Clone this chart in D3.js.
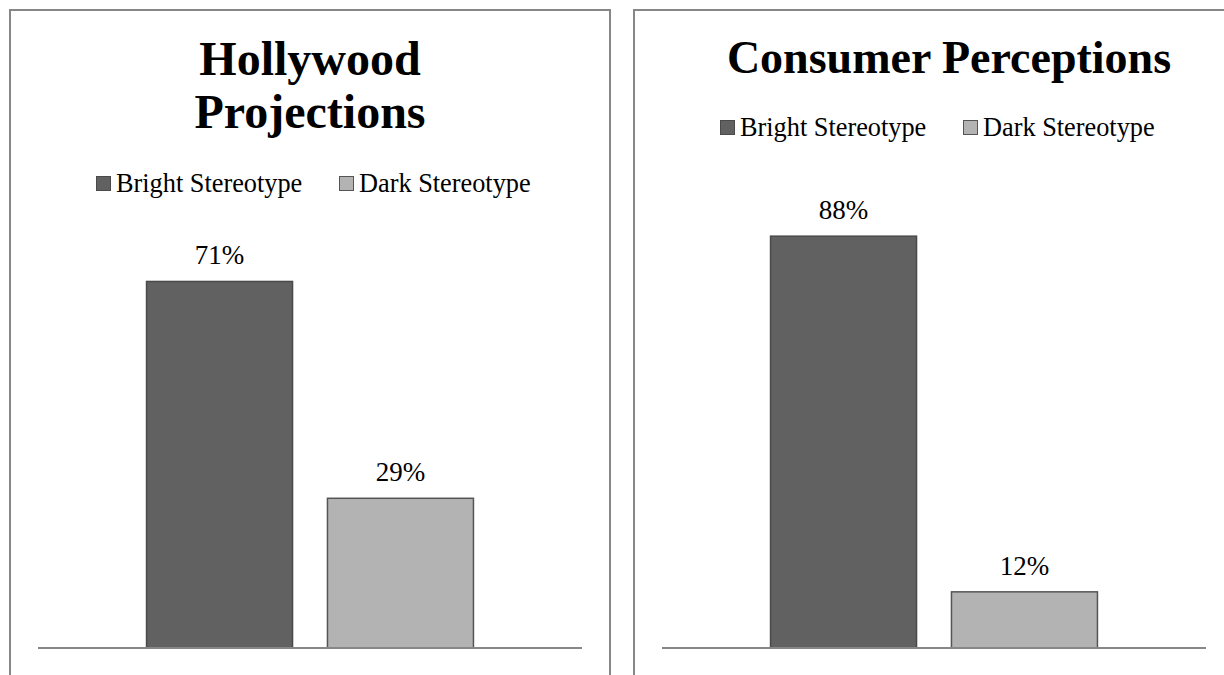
<!DOCTYPE html>
<html>
<head>
<meta charset="utf-8">
<script src="https://cdn.jsdelivr.net/npm/d3@7"></script>
<style>
  body { margin: 0; background: #fff; }
  svg { display: block; font-family: "Liberation Serif", "Times New Roman", serif; }
</style>
</head>
<body>
<script>
const width = 1224;
const height = 675;

// Data
const series = ["Bright Stereotype", "Dark Stereotype"];
const chartTitles = [["Hollywood", "Projections"], ["Consumer Perceptions"]];
const hollywoodValues = [0.71, 0.29];
const consumerValues = [0.88, 0.12];

const fills = ["#616161", "#b3b3b3"];
const strokes = ["#4a4a4a", "#555555"];

const svg = d3.select("body")
  .append("svg")
  .attr("width", width)
  .attr("height", height)
  .attr("viewBox", [0, 0, width, height]);

// panel settings
const panels = [
  { x: 10, w: 600, titleCx: 310, titleSize: 48, titleY: [75, 128], legendY: 192, yMax: 0.8, yTop: 235, values: hollywoodValues, titles: chartTitles[0] },
  { x: 634, w: 640, titleCx: 949, titleSize: 46, titleY: [73], legendY: 136, yMax: 1.0, yTop: 180, values: consumerValues, titles: chartTitles[1] }
];

const baseY = 648;

panels.forEach(p => {
  const g = svg.append("g");

  // border
  g.append("rect")
    .attr("x", p.x)
    .attr("y", 10)
    .attr("width", p.w)
    .attr("height", 700)
    .attr("fill", "#fff")
    .attr("stroke", "#878787")
    .attr("stroke-width", 2);

  // title
  g.selectAll(".title")
    .data(p.titles)
    .enter()
    .append("text")
    .attr("class", "title")
    .attr("x", p.titleCx)
    .attr("y", (d, i) => p.titleY[i])
    .attr("text-anchor", "middle")
    .attr("font-weight", "bold")
    .attr("font-size", p.titleSize)
    .attr("fill", "#000")
    .text(d => d);

  // legend
  const legendX = [p.x + 86, p.x + 329];
  const leg = g.selectAll(".legend")
    .data(series)
    .enter()
    .append("g")
    .attr("class", "legend")
    .attr("transform", (d, i) => `translate(${legendX[i]},${p.legendY})`);

  leg.append("rect")
    .attr("x", 0.5)
    .attr("y", -15.5)
    .attr("width", 14)
    .attr("height", 14)
    .attr("fill", (d, i) => fills[i])
    .attr("stroke", (d, i) => strokes[i])
    .attr("stroke-width", 1);

  leg.append("text")
    .attr("x", 20)
    .attr("y", 0)
    .attr("font-size", 26.3)
    .attr("fill", "#000")
    .text(d => d);

  // scales
  const x = d3.scaleBand()
    .domain(series)
    .range([p.x + 28, p.x + 572])
    .paddingInner(0.193)
    .paddingOuter(0.6);

  const y = d3.scaleLinear()
    .domain([0, p.yMax])
    .range([baseY, p.yTop]);

  // bars
  g.selectAll(".bar")
    .data(p.values)
    .enter()
    .append("rect")
    .attr("class", "bar")
    .attr("x", (d, i) => x(series[i]))
    .attr("y", d => y(d))
    .attr("width", x.bandwidth())
    .attr("height", d => y(0) - y(d))
    .attr("fill", (d, i) => fills[i])
    .attr("stroke", (d, i) => strokes[i])
    .attr("stroke-width", 1.5);

  // baseline
  g.append("line")
    .attr("x1", p.x + 28)
    .attr("x2", p.x + 572)
    .attr("y1", baseY)
    .attr("y2", baseY)
    .attr("stroke", "#878787")
    .attr("stroke-width", 2);

  // data labels
  g.selectAll(".label")
    .data(p.values)
    .enter()
    .append("text")
    .attr("class", "label")
    .attr("x", (d, i) => x(series[i]) + x.bandwidth() / 2)
    .attr("y", d => y(d) - 17)
    .attr("text-anchor", "middle")
    .attr("font-size", 27)
    .attr("fill", "#000")
    .text(d => d3.format(".0%")(d));
});
</script>
</body>
</html>
